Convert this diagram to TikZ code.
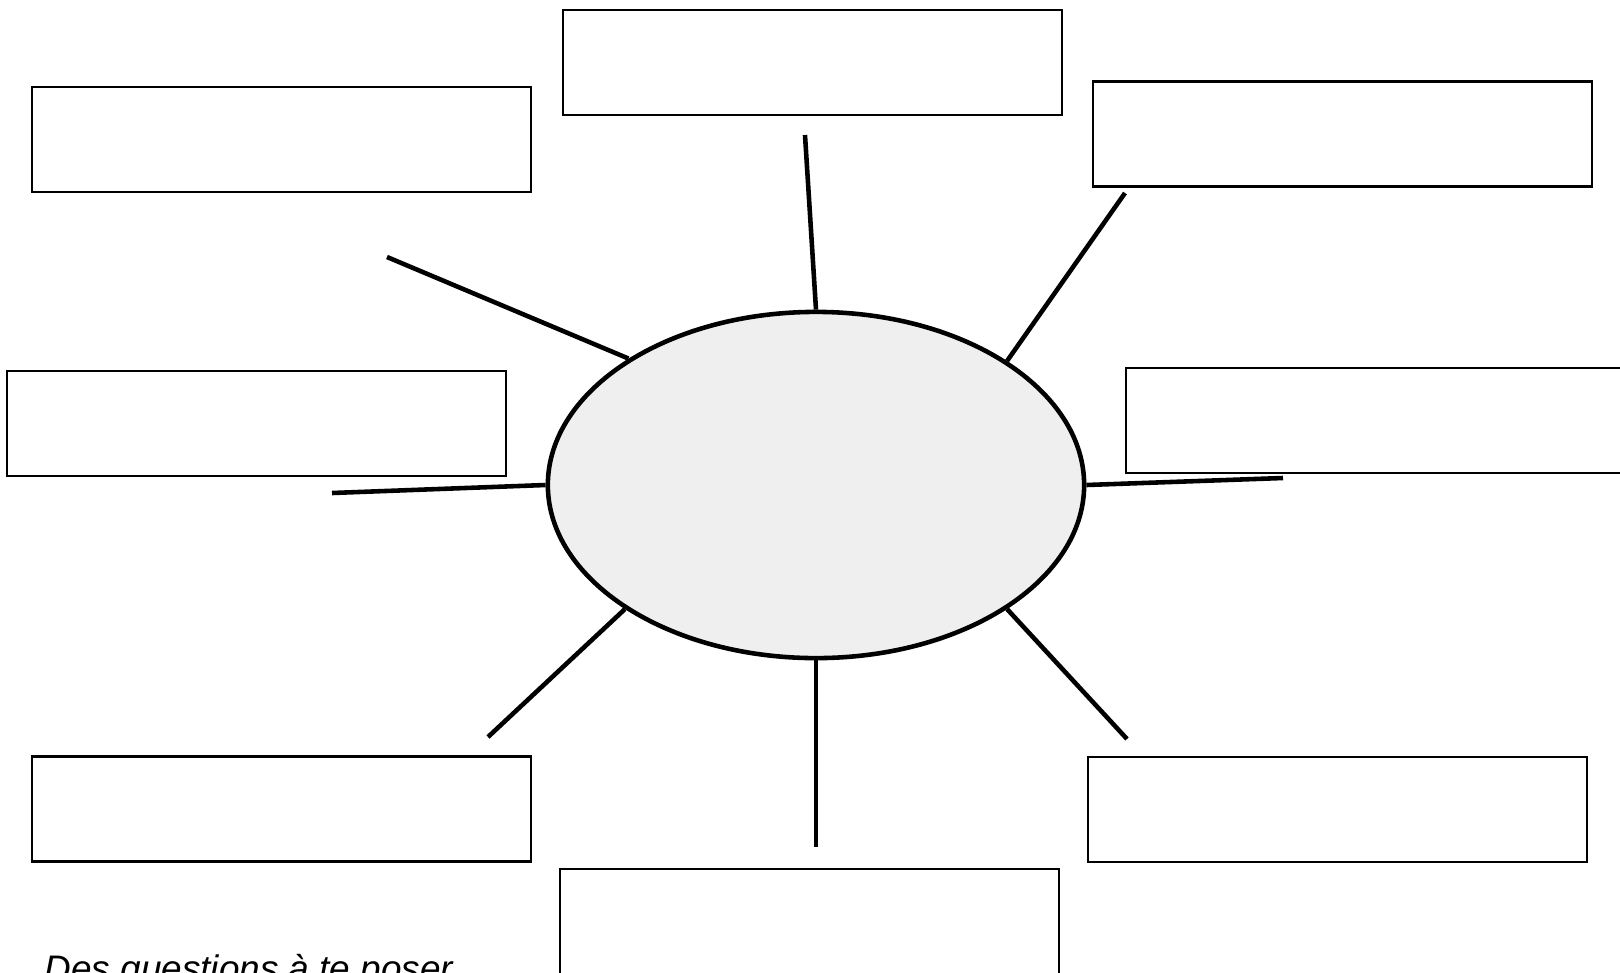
\documentclass[tikz,border=0pt]{standalone}
\usepackage{fontspec}
\setmainfont{Liberation Sans}
\usetikzlibrary{shapes.geometric}
\definecolor{fond}{HTML}{EFEFEF}

\begin{document}
\begin{tikzpicture}[x=0.01cm, y=-0.01cm,
    cadre/.style={draw, line width=0.6pt, rectangle, minimum width=4.99cm, minimum height=1.05cm, inner sep=0pt},
    bulle/.style={draw, line width=1.3pt, fill=fond, ellipse, minimum width=5.36cm, minimum height=3.46cm, inner sep=0pt},
    rayon/.style={line width=1.3pt}]
            \useasboundingbox (0, 0) rectangle (1620, 972);
            % cadres vides autour de la bulle
            \node[cadre] (haut) at (812.5, 62.5) {};
            \node[cadre] (hautgauche) at (281.5, 139.5) {};
            \node[cadre] (hautdroite) at (1342.5, 134) {};
            \node[cadre] (gauche) at (256.5, 423.5) {};
            \node[cadre] (droite) at (1375.5, 420.5) {};
            \node[cadre] (basgauche) at (281.5, 809) {};
            \node[cadre] (basdroite) at (1337.5, 809.5) {};
            \node[cadre] (bas) at (809.5, 921.5) {};

            \node[bulle] (centre) at (816, 485) {};

            % extremites libres des rayons
            \coordinate (r1) at (805, 135);
            \coordinate (r2) at (1125, 193);
            \coordinate (r3) at (1283, 478);
            \coordinate (r4) at (1127, 739);
            \coordinate (r5) at (816, 847);
            \coordinate (r6) at (488, 737);
            \coordinate (r7) at (332, 493);
            \coordinate (r8) at (387, 257);

            \draw[rayon] (centre.90) -- (r1);
            \draw[rayon] (centre.33.1) -- (r2);
            \draw[rayon] (centre.0) -- (r3);
            \draw[rayon] (centre.-33.5) -- (r4);
            \draw[rayon] (centre.270) -- (r5);
            \draw[rayon] (centre.213.5) -- (r6);
            \draw[rayon] (centre.180) -- (r7);
            \draw[rayon] (centre.146.8) -- (r8);

            % consigne, coupee par le bas de la page comme dans l'original
            \node[anchor=base west, inner sep=0pt, font=\fontsize{10.5pt}{12pt}\selectfont\itshape] (consigne) at (44, 981.5) {Des questions à te poser};
        \end{tikzpicture}
\end{document}
